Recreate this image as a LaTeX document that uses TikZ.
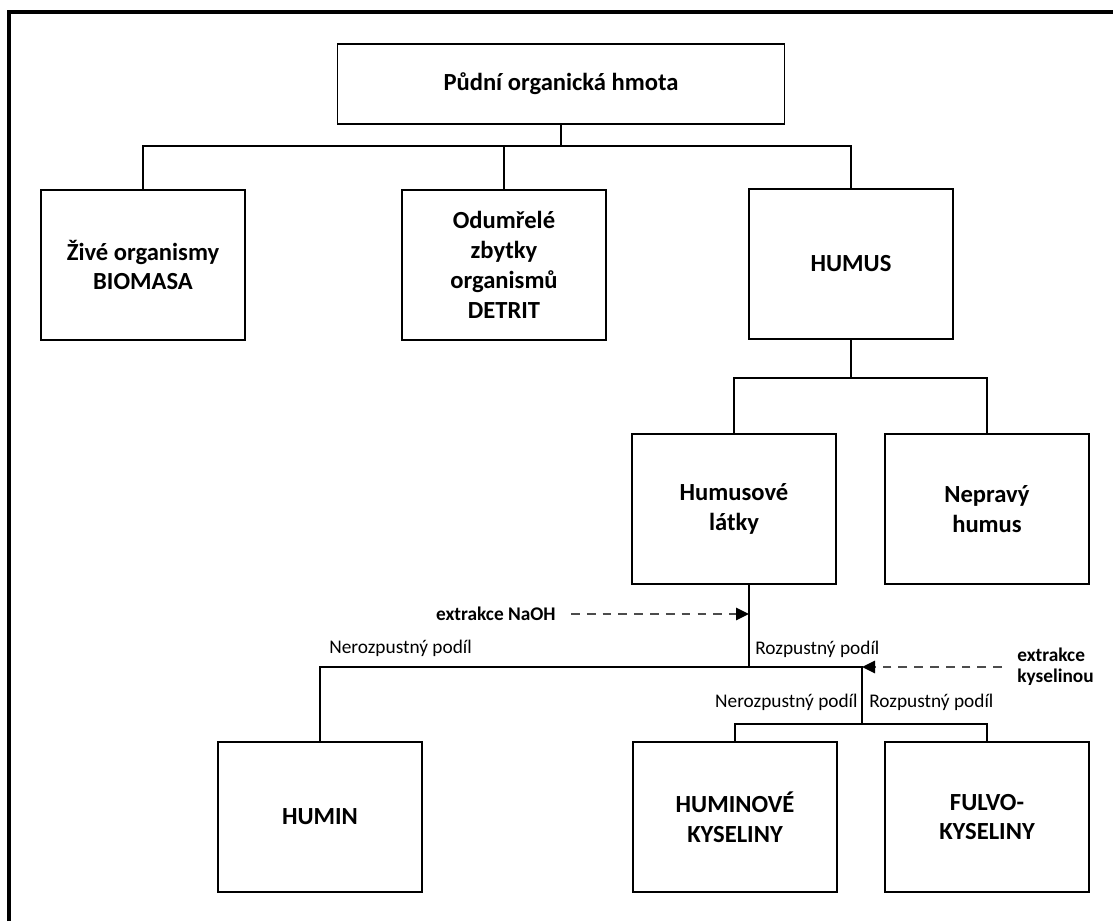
\documentclass[tikz,border=0pt]{standalone}
\usepackage{fontspec}
\setmainfont{Carlito}
\usetikzlibrary{arrows.meta}
\tikzset{
  box/.style={draw,line width=1pt,minimum width=4.08cm,minimum height=3cm,align=center,
    inner sep=0pt,font=\fontsize{14}{17}\selectfont\bfseries},
  link/.style={line width=0.9pt},
  podil/.style={inner sep=0pt,font=\fontsize{11}{12}\selectfont},
  extrtext/.style={inner ysep=0pt,inner xsep=0.3cm,align=left,font=\fontsize{11}{12}\selectfont\bfseries},
  extr/.style={dash pattern=on 5pt off 4pt,line width=1.5pt,black!70,
    -{Triangle[length=0.26cm,width=0.24cm,black]}},
}
\begin{document}
\begin{tikzpicture}[x=0.02cm,y=-0.02cm]
\useasboundingbox (0,0) rectangle (1113,921);
\draw[line width=2.2pt] (9,921)--(9,12)--(1113,12);
% boxes
\node[box,minimum width=8.94cm,minimum height=1.6cm] (pom) at (561,84) {Půdní organická hmota};
\node[box] (bio) at (143,265) {Živé organismy\\BIOMASA};
\node[box] (det) at (504,265) {Odumřelé\\zbytky\\organismů\\DETRIT};
\node[box] (hum) at (851,264) {HUMUS};
\node[box] (hl) at (734,509) {Humusové\\látky};
\node[box] (nh) at (987,509) {Nepravý\\humus};
\node[box] (hmn) at (320,817) {HUMIN};
\node[box] (hk) at (735,817) {HUMINOVÉ\\KYSELINY};
\node[box] (fk) at (987,817) {FULVO-\\KYSELINY};
% tree
\coordinate (s1) at (561,146);
\coordinate (s2) at (851,378);
\coordinate (s3) at (749,667);
\coordinate (s4) at (862,724);
\draw[link] (pom.south)--(s1);
\draw[link] (bio.north) |- (s1) -| (hum.north);
\draw[link] (det.north)--(det.north |- s1);
\draw[link] (hum.south)--(s2);
\draw[link] (hl.north) |- (s2) -| (nh.north);
\draw[link] (s3 |- hl.south)--(s3);
\draw[link] (hmn.north) |- (s3) -| (s4);
\draw[link] (hk.north) |- (s4) -| (fk.north);
% podily
\node[podil,anchor=west] (n1) at (329,648) {Nerozpustný podíl};
\node[podil,anchor=west] (r1) at (755,649) {Rozpustný podíl};
\node[podil,anchor=east] (n2) at (858,702) {Nerozpustný podíl};
\node[podil,anchor=west] (r2) at (869,702) {Rozpustný podíl};
% extrakce
\node[extrtext,anchor=east] (naoh) at (571,614) {extrakce NaOH};
\node[extrtext,anchor=west] (kys) at (1002,667) {extrakce\\kyselinou};
\draw[extr] (naoh.east)--(naoh.east -| s3);
\draw[extr] (kys.west)--(kys.west -| s4);
\end{tikzpicture}
\end{document}
